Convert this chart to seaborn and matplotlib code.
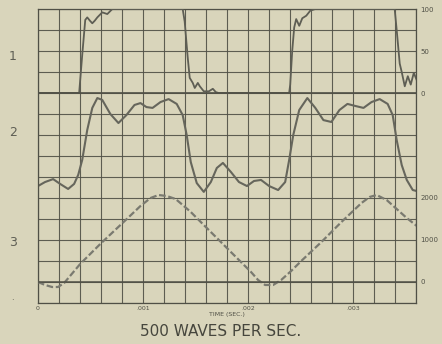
import matplotlib
matplotlib.use('Agg')
import matplotlib.pyplot as plt
import numpy as np
import seaborn as sns

# curve 1: square wave, per cent of full scale (time in ms)
t1_ms = [0, 0.392, 0.421, 0.450, 0.469, 0.495, 0.517, 0.540, 0.565, 0.612, 0.660, 0.708,
         1.378, 1.397, 1.426, 1.445, 1.474, 1.493, 1.522, 1.541, 1.579, 1.627, 1.665, 1.694, 1.720,
         2.392, 2.402, 2.421, 2.440, 2.459, 2.488, 2.517, 2.555, 2.593, 2.641,
         3.397, 3.416, 3.445, 3.464, 3.493, 3.522, 3.550, 3.579, 3.608]
v1 = [0, 0, 45, 87, 90, 86, 83, 86, 90, 96, 94, 100,
      100, 85, 42, 18, 12, 6, 12, 8, 2, 2, 5, 1, 0,
      0, 10, 50, 78, 88, 80, 89, 92, 98, 100,
      100, 75, 35, 25, 8, 20, 10, 24, 15]

# curve 2: response, in grid divisions
t2_ms = [0, 0.067, 0.144, 0.211, 0.287, 0.344, 0.383, 0.421, 0.469, 0.517, 0.565, 0.612,
         0.689, 0.766, 0.842, 0.919, 0.976, 1.033, 1.091, 1.167, 1.244, 1.321, 1.378, 1.416,
         1.455, 1.512, 1.579, 1.646, 1.703, 1.761, 1.837, 1.914, 1.990, 2.057, 2.124, 2.201,
         2.287, 2.354, 2.392, 2.431, 2.488, 2.565, 2.641, 2.718, 2.794, 2.871, 2.947, 3.024,
         3.100, 3.177, 3.254, 3.330, 3.378, 3.416, 3.464, 3.512, 3.569, 3.608]
v2 = [5.57, 5.76, 5.90, 5.67, 5.43, 5.67, 6.10, 6.81, 8.24, 9.29, 9.76, 9.67,
      9.00, 8.57, 8.95, 9.43, 9.52, 9.33, 9.29, 9.57, 9.71, 9.48, 8.95, 8.00,
      6.71, 5.71, 5.29, 5.76, 6.43, 6.67, 6.24, 5.76, 5.57, 5.81, 5.86, 5.57,
      5.38, 5.76, 6.81, 8.00, 9.19, 9.76, 9.29, 8.71, 8.62, 9.19, 9.48, 9.38,
      9.29, 9.57, 9.71, 9.48, 8.95, 7.76, 6.57, 5.86, 5.38, 5.33]

# curve 3: triangle-like wave
t3_ms = [0, 0.067, 0.134, 0.191, 0.249, 0.402, 0.593, 0.785, 0.976, 1.072, 1.148, 1.225,
         1.311, 1.378, 1.455, 1.550, 1.646, 1.742, 1.837, 1.933, 2.029, 2.096, 2.163, 2.239,
         2.316, 2.411, 2.507, 2.699, 2.890, 3.081, 3.158, 3.225, 3.321, 3.416, 3.512, 3.608]
v3 = [0, -71, -119, -119, -24, 430, 905, 1357, 1810, 2000, 2071, 2048,
      1976, 1833, 1667, 1429, 1190, 952, 714, 476, 238, 48, -71, -71,
      48, 262, 500, 952, 1429, 1881, 2024, 2071, 1952, 1738, 1524, 1333]

x_labels = ['0', '.001', '.002', '.003']
scale1_ticks = [0, 50, 100]
scale3_ticks = [0, 1000, 2000]
curve_names = ['1', '2', '3']

paper = '#d9d5bb'
ink = '#505046'

sns.set_style('white', {'axes.facecolor': paper, 'figure.facecolor': paper})
plt.rcParams['font.family'] = ['DejaVu Sans']

fig = plt.figure(figsize=(4.42, 3.44), dpi=100)
ax = fig.add_axes([38 / 442, 1 - 303 / 344, 378 / 442, 294 / 344])

# grid of 0.0002 s by one division
xgrid = np.arange(19) * 0.0002
ax.set_xticks(xgrid)
ax.set_xticklabels(['' if i % 5 else x_labels[i // 5] for i in range(19)])
ax.set_yticks(np.arange(15))
ax.set_yticklabels([])
ax.grid(True, color=ink, linewidth=0.8, alpha=0.9)
ax.set_xlim(0, 0.0036)
ax.set_ylim(0, 14)
ax.tick_params(length=0, labelsize=4.5, colors=ink, pad=2)
for s in ax.spines.values():
    s.set_color(ink)
    s.set_linewidth(0.9)

sns.lineplot(x=np.array(t2_ms) / 1000, y=v2, ax=ax, sort=False, estimator=None,
             color='#66665c', linewidth=1.5)

ax1 = ax.twinx()
sns.lineplot(x=np.array(t1_ms) / 1000, y=v1, ax=ax1, sort=False, estimator=None,
             color='#5e5e54', linewidth=1.3)
ax1.axhline(0, color=ink, linewidth=1.2)
ax1.set_ylim(-250, 100)
ax1.set_yticks(scale1_ticks)
ax1.set_yticklabels([str(v) for v in scale1_ticks])

ax3 = ax.twinx()
sns.lineplot(x=np.array(t3_ms) / 1000, y=v3, ax=ax3, sort=False, estimator=None,
             color='#7a7a70', linewidth=1.6, linestyle=(0, (3, 1.2)))
ax3.axhline(0, color=ink, linewidth=1.1)
ax3.set_ylim(-500, 6500)
ax3.set_yticks(scale3_ticks)
ax3.set_yticklabels([str(v) for v in scale3_ticks])

for a in [ax1, ax3]:
    a.grid(False)
    a.set_xlim(0, 0.0036)
    a.tick_params(length=0, labelsize=5, colors=ink, pad=3)
    for s in a.spines.values():
        s.set_visible(False)
    a.set_ylabel('')

ax.set_xlabel('TIME (SEC.)', fontsize=4.5, color=ink, labelpad=1)
fig.text(221 / 442, 1 - 331 / 344, '500 WAVES PER SEC.', ha='center', va='center',
         fontsize=11, color='#46463d')

for name, ypix in zip(curve_names, [57, 133, 242]):
    fig.text(13 / 442, 1 - ypix / 344, name, ha='center', va='center',
             fontsize=9, color='#5e5e54')
fig.text(12 / 442, 1 - 298 / 344, '.', ha='center', va='center', fontsize=6, color=ink)

fig.savefig('out.png', dpi=100, facecolor=paper)
